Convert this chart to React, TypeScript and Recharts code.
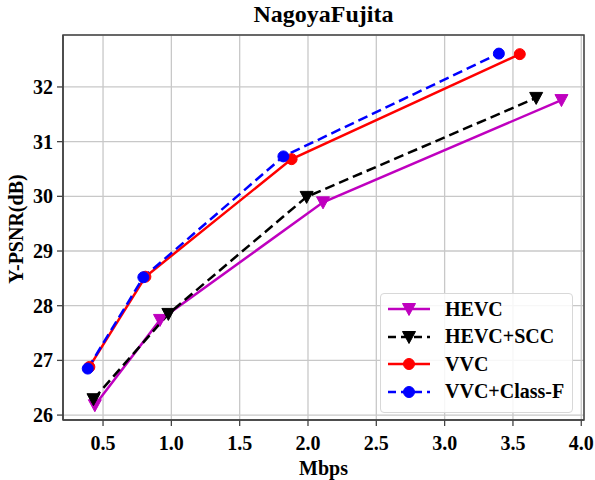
import React from "react";
import {
  LineChart,
  Line,
  XAxis,
  YAxis,
  CartesianGrid,
  Legend,
  ReferenceArea,
} from "recharts";

// rate (Mbps) / Y-PSNR (dB)
const hevcRate = [0.44, 0.917, 2.11, 3.855];
const hevcPsnr = [26.18, 27.74, 29.89, 31.76];
const sccRate = [0.43, 0.978, 1.99, 3.67];
const sccPsnr = [26.29, 27.85, 29.99, 31.8];
const vvcRate = [0.4, 0.81, 1.88, 3.55];
const vvcPsnr = [26.88, 28.53, 30.68, 32.6];
const classFRate = [0.388, 0.795, 1.82, 3.397];
const classFPsnr = [26.85, 28.52, 30.73, 32.61];

const xTicks = [0.5, 1.0, 1.5, 2.0, 2.5, 3.0, 3.5, 4.0];
const yTicks = [26, 27, 28, 29, 30, 31, 32];
const xDomain = [0.207, 4.02];
const yDomain = [25.91, 32.95];

const FONT = "'Liberation Serif', 'Times New Roman', serif";

const toPoints = (xs: number[], ys: number[]) =>
  xs.map((x, i) => ({ x, y: ys[i] }));

const series = [
  { name: "HEVC", data: toPoints(hevcRate, hevcPsnr), color: "#bf00bf", dash: undefined, marker: "tri" },
  { name: "HEVC+SCC", data: toPoints(sccRate, sccPsnr), color: "#000000", dash: "10 5", marker: "tri" },
  { name: "VVC", data: toPoints(vvcRate, vvcPsnr), color: "#ff0000", dash: undefined, marker: "circle" },
  { name: "VVC+Class-F", data: toPoints(classFRate, classFPsnr), color: "#0000ff", dash: "10 5", marker: "circle" },
];

function Marker({ cx, cy, kind, color }: { cx: number; cy: number; kind: string; color: string }) {
  if (kind === "tri") {
    return (
      <polygon
        points={`${cx - 6.5},${cy - 5.5} ${cx + 6.5},${cy - 5.5} ${cx},${cy + 6.5}`}
        fill={color}
        stroke={color}
      />
    );
  }
  return <circle cx={cx} cy={cy} r={5.5} fill={color} stroke={color} />;
}

const makeDot = (kind: string, color: string) => (props: any) => (
  <Marker key={props.key ?? `${props.cx}-${props.cy}`} cx={props.cx} cy={props.cy} kind={kind} color={color} />
);

const renderLegend = () => (
  <div
    style={{
      width: 193,
      height: 120,
      boxSizing: "border-box",
      border: "1px solid #d8d8d8",
      borderRadius: 4,
      background: "rgba(255,255,255,0.85)",
      position: "relative",
    }}
  >
    {series.map((s, i) => (
      <div
        key={s.name}
        style={{
          position: "absolute",
          left: 6,
          top: 2 + i * 27.5,
          height: 26,
          display: "flex",
          alignItems: "center",
        }}
      >
        <svg width={46} height={20}>
          <line x1={1} y1={10} x2={43} y2={10} stroke={s.color} strokeWidth={2.5} strokeDasharray={s.dash ? "8 5" : undefined} />
          <Marker cx={22} cy={10} kind={s.marker} color={s.color} />
        </svg>
        <span
          style={{
            marginLeft: 12,
            fontFamily: FONT,
            fontWeight: "bold",
            fontSize: 20,
            color: "#000",
          }}
        >
          {s.name}
        </span>
      </div>
    ))}
  </div>
);

const tickStyle = { fontFamily: FONT, fontWeight: "bold", fontSize: 20, fill: "#000" };

export default function App() {
  return (
    <div style={{ position: "absolute", left: 0, top: 0, width: 595, height: 480, background: "#fff" }}>
      <div
        style={{
          position: "absolute",
          left: 63,
          width: 521,
          top: 1,
          textAlign: "center",
          fontFamily: FONT,
          fontWeight: "bold",
          fontSize: 24,
          color: "#000",
        }}
      >
        NagoyaFujita
      </div>
      <LineChart width={595} height={480} margin={{ top: 35, right: 11, left: 0, bottom: 0 }}>
        <CartesianGrid stroke="#c8c8c8" strokeWidth={1.3} />
        <XAxis
          dataKey="x"
          type="number"
          domain={xDomain}
          ticks={xTicks}
          allowDataOverflow
          height={60}
          tickFormatter={(v) => v.toFixed(1)}
          tick={tickStyle}
          tickSize={6}
          tickMargin={10}
          tickLine={{ stroke: "#444", strokeWidth: 1.3 }}
          axisLine={{ stroke: "#444", strokeWidth: 1.5 }}
          label={{
            value: "Mbps",
            position: "insideBottom",
            offset: 5,
            style: { fontFamily: FONT, fontWeight: "bold", fontSize: 20, fill: "#000" },
          }}
        />
        <YAxis
          type="number"
          domain={yDomain}
          ticks={yTicks}
          allowDataOverflow
          width={63}
          tick={tickStyle}
          tickSize={6}
          tickMargin={4}
          tickLine={{ stroke: "#444", strokeWidth: 1.3 }}
          axisLine={{ stroke: "#444", strokeWidth: 1.5 }}
          label={{
            content: () => (
              <text
                x={16}
                y={229}
                transform="rotate(-90 16 229)"
                textAnchor="middle"
                dominantBaseline="central"
                style={{ fontFamily: FONT, fontWeight: "bold", fontSize: 20, fill: "#000" }}
              >
                Y-PSNR(dB)
              </text>
            ),
          }}
        />
        <ReferenceArea
          x1={xDomain[0]}
          x2={xDomain[1]}
          y1={yDomain[0]}
          y2={yDomain[1]}
          fill="none"
          fillOpacity={0}
          stroke="#444"
          strokeWidth={1.5}
          ifOverflow="visible"
        />
        {series.map((s) => (
          <Line
            key={s.name}
            name={s.name}
            data={s.data}
            dataKey="y"
            type="linear"
            stroke={s.color}
            strokeWidth={2.5}
            strokeDasharray={s.dash}
            dot={makeDot(s.marker, s.color)}
            activeDot={false}
            isAnimationActive={false}
          />
        ))}
        <Legend
          layout="vertical"
          align="center"
          verticalAlign="middle"
          content={renderLegend}
          wrapperStyle={{ position: "absolute", left: 380, top: 293, width: 193, height: 120 }}
        />
      </LineChart>
    </div>
  );
}
